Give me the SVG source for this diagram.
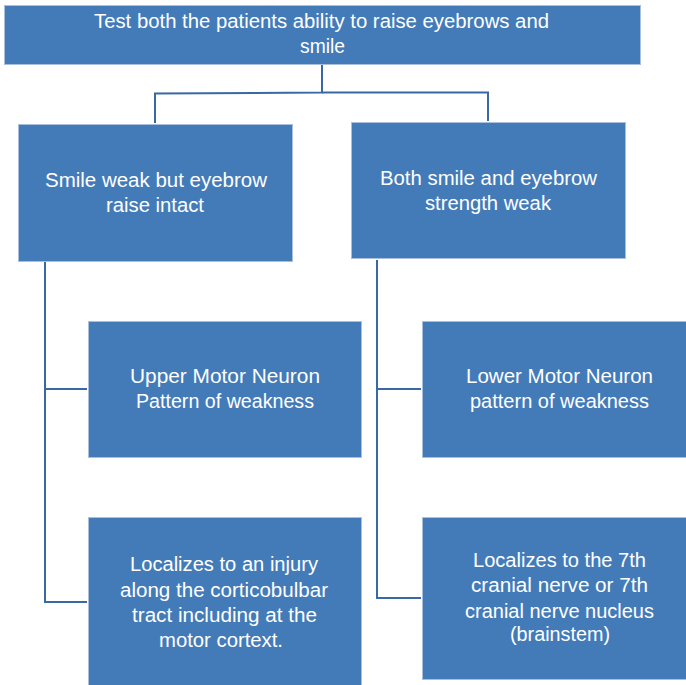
<svg xmlns="http://www.w3.org/2000/svg" width="686" height="685" viewBox="0 0 686 685">
<style>
.box{fill:#437BB9;stroke:#A9C0DD;stroke-width:1}
.t{font-family:"Liberation Sans","Open Sans",sans-serif;font-size:20px;fill:#FFFFFF}
.c{fill:none;stroke:#3A68A2;stroke-width:2}
</style>
<rect width="686" height="685" fill="#FFFFFF"/>
<g id="connectors">
<polyline class="c" points="322,64 322,92.5 155,93.5 155,123"/>
<polyline class="c" points="322,92.5 488,92.5 488,121"/>
<polyline class="c" points="45,262 45,602 87,602"/>
<line class="c" x1="45" y1="389" x2="87" y2="389"/>
<polyline class="c" points="377,260 377,598 421,598"/>
<line class="c" x1="377" y1="389" x2="421" y2="389"/>
</g>
<g id="n-top">
<rect class="box" x="4.5" y="5.5" width="636" height="59"/>
<text class="t" x="94" y="28" textLength="455" lengthAdjust="spacingAndGlyphs">Test both the patients ability to raise eyebrows and</text>
<text class="t" x="300" y="53" textLength="45" lengthAdjust="spacingAndGlyphs">smile</text>
</g>
<g id="n-smile">
<rect class="box" x="18.5" y="124.5" width="274" height="137"/>
<text class="t" x="45" y="187" textLength="222" lengthAdjust="spacingAndGlyphs">Smile weak but eyebrow</text>
<text class="t" x="106" y="212" textLength="98" lengthAdjust="spacingAndGlyphs">raise intact</text>
</g>
<g id="n-both">
<rect class="box" x="351.5" y="122.5" width="274" height="136"/>
<text class="t" x="380" y="185" textLength="217" lengthAdjust="spacingAndGlyphs">Both smile and eyebrow</text>
<text class="t" x="425" y="210" textLength="126" lengthAdjust="spacingAndGlyphs">strength weak</text>
</g>
<g id="n-umn">
<rect class="box" x="88.5" y="321.5" width="273" height="136"/>
<text class="t" x="130" y="383" textLength="190" lengthAdjust="spacingAndGlyphs">Upper Motor Neuron</text>
<text class="t" x="136" y="408" textLength="178" lengthAdjust="spacingAndGlyphs">Pattern of weakness</text>
</g>
<g id="n-lmn">
<rect class="box" x="422.5" y="321.5" width="264" height="136"/>
<text class="t" x="466" y="383" textLength="187" lengthAdjust="spacingAndGlyphs">Lower Motor Neuron</text>
<text class="t" x="470" y="408" textLength="179" lengthAdjust="spacingAndGlyphs">pattern of weakness</text>
</g>
<g id="n-umn-loc">
<rect class="box" x="88.5" y="517.5" width="273" height="168"/>
<text class="t" x="130" y="571" textLength="188" lengthAdjust="spacingAndGlyphs">Localizes to an injury</text>
<text class="t" x="120" y="597" textLength="208" lengthAdjust="spacingAndGlyphs">along the corticobulbar</text>
<text class="t" x="132" y="622" textLength="185" lengthAdjust="spacingAndGlyphs">tract including at the</text>
<text class="t" x="159" y="647" textLength="124" lengthAdjust="spacingAndGlyphs">motor cortext.</text>
</g>
<g id="n-lmn-loc">
<rect class="box" x="422.5" y="517.5" width="264" height="162"/>
<text class="t" x="473" y="567" textLength="173" lengthAdjust="spacingAndGlyphs">Localizes to the 7th</text>
<text class="t" x="471" y="592" textLength="177" lengthAdjust="spacingAndGlyphs">cranial nerve or 7th</text>
<text class="t" x="465" y="618" textLength="189" lengthAdjust="spacingAndGlyphs">cranial nerve nucleus</text>
<text class="t" x="510" y="641" textLength="100" lengthAdjust="spacingAndGlyphs">(brainstem)</text>
</g>
</svg>
